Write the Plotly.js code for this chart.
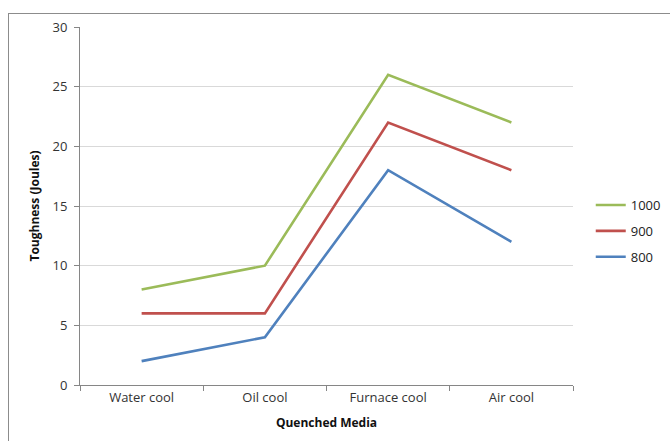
<!DOCTYPE html>
<html><head><meta charset="utf-8">
<script src="https://cdn.plot.ly/plotly-3.0.1.min.js"></script>
<style>
html,body{margin:0;padding:0;overflow:hidden;background:#fff;}
#wrap{position:relative;width:670px;height:441px;overflow:hidden;}
#chart{width:720px;height:441px;}
#frame{position:absolute;left:8px;top:13px;width:700px;height:500px;border:1px solid #8c8c8c;pointer-events:none;}
</style></head>
<body><div id="wrap"><div id="chart"></div><div id="frame"></div></div>
<script>
const categories = ["Water cool", "Oil cool", "Furnace cool", "Air cool"];
const seriesNames = ["1000", "900", "800"];
const s1000 = [8, 10, 26, 22];
const s900 = [6, 6, 22, 18];
const s800 = [2, 4, 18, 12];
const yTicks = [0, 5, 10, 15, 20, 25, 30];
const colors = ["#9BBB59", "#C0504D", "#4F81BD"];
const vals = [s1000, s900, s800];
const font = "Open Sans, Liberation Sans, sans-serif";
const traces = vals.map((v, i) => ({
  x: categories, y: v, type: "scatter", mode: "lines", name: seriesNames[i],
  legendgroup: "g" + i,
  line: {color: colors[i], width: 2.6}
}));
const layout = {
  width: 720, height: 441,
  margin: {l: 80, r: 147, t: 27, b: 56},
  paper_bgcolor: "#fff", plot_bgcolor: "#fff",
  showlegend: true,
  legend: {x: 1.036, y: 0.43, xanchor: "left", yanchor: "middle", font: {family: font, size: 13, color: "#222"}, tracegroupgap: 6},
  xaxis: {
    type: "category", range: [-0.5, 3.5], showline: true, linecolor: "#868686", linewidth: 1,
    ticks: "outside", tickson: "boundaries", ticklen: 5, tickcolor: "#868686",
    showgrid: false, zeroline: false,
    tickfont: {family: font, size: 13, color: "#333"},
    title: {text: "<b>Quenched Media</b>", font: {family: font, size: 12, color: "#111"}, standoff: 14}
  },
  yaxis: {
    range: [0, 30], tickvals: yTicks, showline: true, linecolor: "#868686", linewidth: 1,
    ticks: "outside", ticklen: 5, tickcolor: "#868686", ticklabelstandoff: 4,
    showgrid: true, gridcolor: "#d9d9d9", gridwidth: 1, zeroline: false,
    tickfont: {family: font, size: 13, color: "#333"},
    title: {text: "<b>Toughness (Joules)</b>", font: {family: font, size: 12, color: "#111"}, standoff: 10}
  }
};
Plotly.newPlot("chart", traces, layout, {displayModeBar: false, staticPlot: true});
</script></body></html>
